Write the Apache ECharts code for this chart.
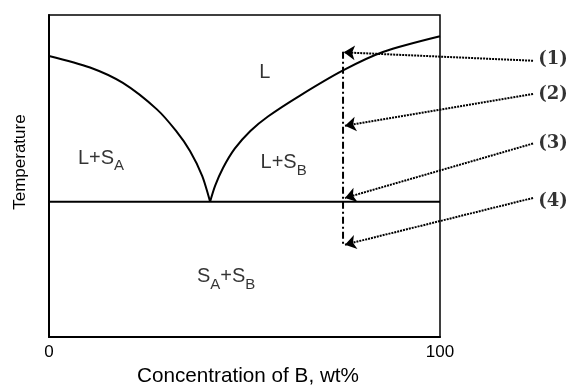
<!DOCTYPE html>
<html>
<head>
<meta charset="utf-8">
<script src="https://cdn.jsdelivr.net/npm/echarts@6/dist/echarts.min.js"></script>
<style>html,body{margin:0;padding:0;background:#fff;}#c{width:568px;height:392px;}</style>
</head>
<body>
<div id="c"></div>
<script>
// ---- data ----
const xTickValues = [0, 100];
const leftLiquidus = [[0, 87.3], [10.5, 83.7], [18.9, 78.9], [27.6, 70.7], [32.5, 64], [36.1, 57.7], [39.2, 50], [41.2, 42]];
const rightLiquidus = [[41.2, 42], [42.5, 47], [44.5, 52.5], [47.5, 58.5], [51.5, 64], [56, 68.5], [64.2, 75], [75.2, 82.8], [85.4, 88.5], [100, 93.4]];
const eutecticLine = [[0, 42], [100, 42]];
const compositionLine = [[75.2, 88.6], [75.2, 28.6]];
const arrowStarts = [[123.8, 85.8], [123.8, 75.5], [123.8, 60.1], [123.8, 43.2]];
const arrowEnds = [[75.4, 88.4], [75.7, 65.6], [75.7, 43.2], [75.7, 28.7]];
const arrowLabels = ['(1)', '(2)', '(3)', '(4)'];
const arrowLabelPos = [[125.1, 86.1], [125.1, 75.5], [125.1, 60.1], [125.1, 42]];
const regionLabels = [
  { pos: [55.2, 82.8], parts: [['m', 'L']] },
  { pos: [13.3, 56.2], parts: [['m', 'L+S'], ['s', 'A']] },
  { pos: [60.0, 54.7], parts: [['m', 'L+S'], ['s', 'B']] },
  { pos: [45.3, 19.3], parts: [['m', 'S'], ['s', 'A'], ['m', '+S'], ['s', 'B']] }
];

const chart = echarts.init(document.getElementById('c'), null, { renderer: 'canvas' });
const black = '#000';
const sans = 'Liberation Sans, Arial, sans-serif';

const option = {
  animation: false,
  backgroundColor: '#fff',
  grid: { left: 49, right: 128, top: 15, bottom: 46, show: true, borderColor: black, borderWidth: 1.5, containLabel: false },
  xAxis: {
    type: 'value', min: 0, max: 100, interval: 100,
    axisLine: { show: true, lineStyle: { color: black, width: 2 } },
    axisTick: { show: false },
    splitLine: { show: false },
    axisLabel: { color: black, fontFamily: sans, fontSize: 17, margin: 7,
      formatter: v => (xTickValues.indexOf(v) >= 0 ? String(v) : '') },
    name: 'Concentration of B, wt%', nameLocation: 'middle', nameGap: 26,
    nameTextStyle: { color: black, fontFamily: sans, fontSize: 20.7, padding: [0, 0, 0, 7] }
  },
  yAxis: {
    type: 'value', min: 0, max: 100,
    axisLine: { show: true, lineStyle: { color: black, width: 2 } },
    axisTick: { show: false },
    splitLine: { show: false },
    axisLabel: { show: false },
    name: 'Temperature', nameLocation: 'middle', nameGap: 20,
    nameTextStyle: { color: black, fontFamily: sans, fontSize: 17, padding: [0, 0, 0, 28] }
  },
  series: [
    { type: 'line', data: leftLiquidus, smooth: 0.3, symbol: 'none', lineStyle: { color: black, width: 2 } },
    { type: 'line', data: rightLiquidus, smooth: 0.3, symbol: 'none', lineStyle: { color: black, width: 2 } },
    { type: 'line', data: eutecticLine, symbol: 'none', lineStyle: { color: black, width: 2 } },
    { type: 'line', data: compositionLine, symbol: 'none', lineStyle: { color: black, width: 2, type: [7, 3, 2, 3] } },
    {
      type: 'lines', coordinateSystem: 'cartesian2d', silent: true, clip: false,
      symbol: ['none', 'arrow'], symbolSize: [0, 11],
      lineStyle: { color: black, width: 2, type: [2, 1], opacity: 1 },
      data: arrowStarts.map((s, i) => ({ coords: [s, arrowEnds[i]] }))
    },
    {
      type: 'scatter', symbolSize: 0, clip: false, silent: true,
      data: arrowLabelPos.map((p, i) => ({ value: p, name: arrowLabels[i] })),
      label: { show: true, position: 'right', distance: 0, formatter: '{b}', color: black,
        fontFamily: 'DejaVu Serif, serif', fontWeight: 'bold', fontSize: 18 }
    },
    {
      type: 'scatter', symbolSize: 0, silent: true,
      data: regionLabels.map(r => ({ value: r.pos })),
      label: {
        show: true, position: 'inside', color: black,
        formatter: p => regionLabels[p.dataIndex].parts.map(t => '{' + t[0] + '|' + t[1] + '}').join(''),
        rich: {
          m: { fontFamily: sans, fontSize: 20, color: black, verticalAlign: 'bottom', lineHeight: 24 },
          s: { fontFamily: sans, fontSize: 15, color: black, verticalAlign: 'bottom', lineHeight: 18, padding: [0, 0, -5, 0] }
        }
      }
    }
  ]
};
chart.setOption(option);
</script>
</body>
</html>
